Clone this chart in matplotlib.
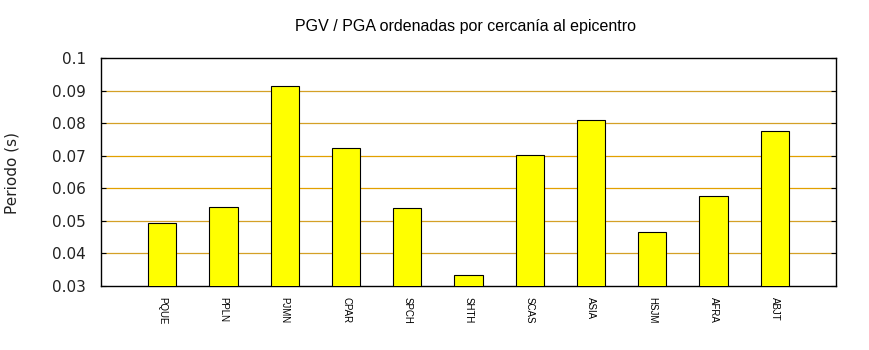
import matplotlib
matplotlib.use("Agg")
import matplotlib.pyplot as plt

stations = ["PQUE", "PPLN", "PJMN", "CPAR", "SPCH", "SHTH", "SCAS", "ASIA", "HSJM", "AFRA", "ABJT"]
values = [0.0493, 0.0543, 0.0914, 0.0724, 0.0540, 0.0334, 0.0702, 0.0810, 0.0466, 0.0576, 0.0776]
yticks = [0.03, 0.04, 0.05, 0.06, 0.07, 0.08, 0.09, 0.1]
yticklabels = ["0.03", "0.04", "0.05", "0.06", "0.07", "0.08", "0.09", "0.1"]

fig = plt.figure(figsize=(8.7, 3.5), dpi=100)
ax = fig.add_axes([101/870, 1-286/350, (836-101)/870, (286-58)/350])

x = list(range(len(stations)))
ax.set_xlim(-1, len(stations))
ax.set_ylim(0.03, 0.1)

# gridlines
for v in yticks[1:-1]:
    col = "#e2a000" if v in (0.06, 0.07) else "#d4a026"
    ax.axhline(v, color=col, linewidth=0.9, zorder=1)

ax.bar(x, values, width=0.46, color="#ffff00", edgecolor="black", linewidth=0.8, zorder=3)

ax.set_yticks(yticks)
ax.set_yticklabels(yticklabels, family="DejaVu Sans", fontsize=11, color="#222222")
ax.tick_params(axis="y", direction="in", length=3.5, width=0.8, left=True, right=True, pad=11)
ax.set_xticks(x)
ax.set_xticklabels(stations, rotation=-90, family="Liberation Sans", fontsize=7, va="top", ha="center")
ax.tick_params(axis="x", length=0, pad=8)

for s in ax.spines.values():
    s.set_linewidth(1.0)
    s.set_color("black")

fig.text(12/870, 1-173/350, "Periodo (s)", family="DejaVu Sans", fontsize=11,
         color="#222222", rotation=90, ha="center", va="center")

fig.text(466/870, 1-27/350, "PGV / PGA ordenadas por cercanía al epicentro",
         family="Liberation Sans", fontsize=11.5, ha="center", va="center")

fig.savefig("out.png", dpi=100)
